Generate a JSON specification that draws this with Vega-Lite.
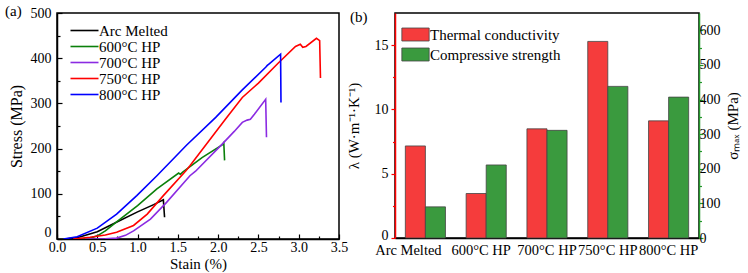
{
  "$schema": "https://vega.github.io/schema/vega-lite/v6.json",
  "background": "white",
  "padding": {"left": 4, "top": 3, "right": 2, "bottom": 2},
  "spacing": -4,
  "resolve": {"scale": {"color": "independent"}, "legend": {"color": "independent"}},
  "config": {
    "font": "Liberation Serif",
    "style": {"guide-label": {"font": "Liberation Serif"}, "guide-title": {"font": "Liberation Serif"}, "group-title": {"font": "Liberation Serif"}},
    "view": {"stroke": "black", "strokeWidth": 1.5},
    "axis": {"labelFont": "Liberation Serif", "titleFont": "Liberation Serif", "labelFontSize": 14, "titleFontSize": 15, "titleFontWeight": "normal", "labelColor": "black", "titleColor": "black", "domainColor": "black", "tickColor": "black", "domainWidth": 1.5, "tickWidth": 1.2, "grid": false},
    "legend": {"labelFont": "Liberation Serif", "labelFontSize": 15, "labelColor": "black"},
    "title": {"font": "Liberation Serif", "fontSize": 15, "fontWeight": "normal", "color": "black"}
  },
  "hconcat": [
    {
      "width": 282,
      "height": 226,
      "title": {"text": "(a)", "anchor": "start", "frame": "bounds", "dx": -3, "dy": 17},
      "data": {"values": [
        {"series": "Arc Melted", "i": 0, "strain": 0.1, "stress": 0},
        {"series": "Arc Melted", "i": 1, "strain": 0.25, "stress": 3},
        {"series": "Arc Melted", "i": 2, "strain": 0.5, "stress": 16},
        {"series": "Arc Melted", "i": 3, "strain": 0.75, "stress": 38},
        {"series": "Arc Melted", "i": 4, "strain": 1.0, "stress": 60},
        {"series": "Arc Melted", "i": 5, "strain": 1.2, "stress": 76},
        {"series": "Arc Melted", "i": 6, "strain": 1.32, "stress": 87},
        {"series": "Arc Melted", "i": 7, "strain": 1.335, "stress": 48},
        {"series": "600°C HP", "i": 0, "strain": 0.3, "stress": 0},
        {"series": "600°C HP", "i": 1, "strain": 0.4, "stress": 1},
        {"series": "600°C HP", "i": 2, "strain": 0.5, "stress": 7},
        {"series": "600°C HP", "i": 3, "strain": 0.6, "stress": 18},
        {"series": "600°C HP", "i": 4, "strain": 0.74, "stress": 38},
        {"series": "600°C HP", "i": 5, "strain": 1.0, "stress": 74},
        {"series": "600°C HP", "i": 6, "strain": 1.24, "stress": 111},
        {"series": "600°C HP", "i": 7, "strain": 1.51, "stress": 146},
        {"series": "600°C HP", "i": 8, "strain": 1.53, "stress": 143},
        {"series": "600°C HP", "i": 9, "strain": 1.56, "stress": 148},
        {"series": "600°C HP", "i": 10, "strain": 1.8, "stress": 180},
        {"series": "600°C HP", "i": 11, "strain": 2.05, "stress": 208},
        {"series": "600°C HP", "i": 12, "strain": 2.07, "stress": 213},
        {"series": "600°C HP", "i": 13, "strain": 2.08, "stress": 174},
        {"series": "700°C HP", "i": 0, "strain": 0.35, "stress": 0},
        {"series": "700°C HP", "i": 1, "strain": 0.6, "stress": 0.5},
        {"series": "700°C HP", "i": 2, "strain": 0.74, "stress": 2},
        {"series": "700°C HP", "i": 3, "strain": 0.85, "stress": 8},
        {"series": "700°C HP", "i": 4, "strain": 0.95, "stress": 18},
        {"series": "700°C HP", "i": 5, "strain": 1.16, "stress": 44},
        {"series": "700°C HP", "i": 6, "strain": 1.36, "stress": 81},
        {"series": "700°C HP", "i": 7, "strain": 1.65, "stress": 140},
        {"series": "700°C HP", "i": 8, "strain": 1.72, "stress": 150},
        {"series": "700°C HP", "i": 9, "strain": 2.05, "stress": 210},
        {"series": "700°C HP", "i": 10, "strain": 2.2, "stress": 238},
        {"series": "700°C HP", "i": 11, "strain": 2.3, "stress": 258},
        {"series": "700°C HP", "i": 12, "strain": 2.36, "stress": 263},
        {"series": "700°C HP", "i": 13, "strain": 2.4, "stress": 265},
        {"series": "700°C HP", "i": 14, "strain": 2.45, "stress": 276},
        {"series": "700°C HP", "i": 15, "strain": 2.59, "stress": 309},
        {"series": "700°C HP", "i": 16, "strain": 2.6, "stress": 225},
        {"series": "750°C HP", "i": 0, "strain": 0.2, "stress": 0},
        {"series": "750°C HP", "i": 1, "strain": 0.41, "stress": 4},
        {"series": "750°C HP", "i": 2, "strain": 0.6, "stress": 9},
        {"series": "750°C HP", "i": 3, "strain": 0.74, "stress": 15},
        {"series": "750°C HP", "i": 4, "strain": 0.95, "stress": 30},
        {"series": "750°C HP", "i": 5, "strain": 1.12, "stress": 55},
        {"series": "750°C HP", "i": 6, "strain": 1.32, "stress": 96},
        {"series": "750°C HP", "i": 7, "strain": 1.6, "stress": 151},
        {"series": "750°C HP", "i": 8, "strain": 1.65, "stress": 162},
        {"series": "750°C HP", "i": 9, "strain": 2.09, "stress": 265},
        {"series": "750°C HP", "i": 10, "strain": 2.3, "stress": 313},
        {"series": "750°C HP", "i": 11, "strain": 2.5, "stress": 345},
        {"series": "750°C HP", "i": 12, "strain": 2.75, "stress": 390},
        {"series": "750°C HP", "i": 13, "strain": 2.96, "stress": 426},
        {"series": "750°C HP", "i": 14, "strain": 3.02, "stress": 431},
        {"series": "750°C HP", "i": 15, "strain": 3.05, "stress": 424},
        {"series": "750°C HP", "i": 16, "strain": 3.09, "stress": 426},
        {"series": "750°C HP", "i": 17, "strain": 3.22, "stress": 444},
        {"series": "750°C HP", "i": 18, "strain": 3.26, "stress": 439},
        {"series": "750°C HP", "i": 19, "strain": 3.27, "stress": 356},
        {"series": "800°C HP", "i": 0, "strain": 0.08, "stress": 0},
        {"series": "800°C HP", "i": 1, "strain": 0.25, "stress": 5},
        {"series": "800°C HP", "i": 2, "strain": 0.5, "stress": 24},
        {"series": "800°C HP", "i": 3, "strain": 0.74, "stress": 55},
        {"series": "800°C HP", "i": 4, "strain": 0.99, "stress": 96},
        {"series": "800°C HP", "i": 5, "strain": 1.24, "stress": 140},
        {"series": "800°C HP", "i": 6, "strain": 1.61, "stress": 208},
        {"series": "800°C HP", "i": 7, "strain": 1.97, "stress": 269},
        {"series": "800°C HP", "i": 8, "strain": 2.3, "stress": 330},
        {"series": "800°C HP", "i": 9, "strain": 2.59, "stress": 380},
        {"series": "800°C HP", "i": 10, "strain": 2.61, "stress": 384},
        {"series": "800°C HP", "i": 11, "strain": 2.63, "stress": 387},
        {"series": "800°C HP", "i": 12, "strain": 2.775, "stress": 409},
        {"series": "800°C HP", "i": 13, "strain": 2.78, "stress": 302}
      ]},
      "mark": {"type": "line", "strokeWidth": 1.6, "clip": true},
      "encoding": {
        "x": {"field": "strain", "type": "quantitative", "title": "Stain (%)",
          "scale": {"domain": [0, 3.5], "nice": false, "zero": false},
          "axis": {"values": [0, 0.25, 0.5, 0.75, 1, 1.25, 1.5, 1.75, 2, 2.25, 2.5, 2.75, 3, 3.25, 3.5],
            "labelExpr": "(datum.value * 2) % 1 == 0 ? format(datum.value, '.1f') : ''",
            "tickSize": {"condition": {"test": "(datum.value * 2) % 1 == 0", "value": -5}, "value": -3},
            "labelFont": "Liberation Serif", "titleFont": "Liberation Serif",
            "labelPadding": 6, "titlePadding": 0, "labelFlush": false, "labelOverlap": false}},
        "y": {"field": "stress", "type": "quantitative", "title": "Stress (MPa)",
          "scale": {"domain": [0, 500], "nice": false},
          "axis": {"values": [0, 50, 100, 150, 200, 250, 300, 350, 400, 450, 500],
            "labelExpr": "datum.value % 100 == 0 ? datum.label : ''",
            "tickSize": {"condition": {"test": "datum.value % 100 == 0", "value": -5}, "value": -3},
            "labelOffset": {"condition": {"test": "datum.value == 0", "value": -7}, "value": 0},
            "labelFont": "Liberation Serif", "titleFont": "Liberation Serif",
            "labelPadding": 11, "titlePadding": 6, "titleFontSize": 16, "labelFlush": false, "labelOverlap": false}},
        "color": {"field": "series", "type": "nominal",
          "scale": {"domain": ["Arc Melted", "600°C HP", "700°C HP", "750°C HP", "800°C HP"],
            "range": ["#000000", "#0a800a", "#8b2be2", "#ff0000", "#0000ff"]},
          "legend": {"title": null, "orient": "none", "legendX": 20, "legendY": 10,
            "symbolType": "M-2.8,0L2.8,0", "symbolSize": 100, "symbolStrokeWidth": 1.6,
            "labelFont": "Liberation Serif",
            "labelOffset": 7, "rowPadding": -1, "padding": 0}},
        "order": {"field": "i", "type": "quantitative"}
      }
    },
    {
      "width": 304,
      "height": 225,
      "title": {"text": "(b)", "anchor": "start", "frame": "bounds", "dx": 4, "dy": 16},
      "data": {"values": [
        {"cat": "Arc Melted", "series": "Thermal conductivity", "val": 7.16},
        {"cat": "600°C HP", "series": "Thermal conductivity", "val": 3.46},
        {"cat": "700°C HP", "series": "Thermal conductivity", "val": 8.49},
        {"cat": "750°C HP", "series": "Thermal conductivity", "val": 15.29},
        {"cat": "800°C HP", "series": "Thermal conductivity", "val": 9.11},
        {"cat": "Arc Melted", "series": "Compressive strength", "val": 90},
        {"cat": "600°C HP", "series": "Compressive strength", "val": 211},
        {"cat": "700°C HP", "series": "Compressive strength", "val": 311},
        {"cat": "750°C HP", "series": "Compressive strength", "val": 438},
        {"cat": "800°C HP", "series": "Compressive strength", "val": 407}
      ]},
      "encoding": {
        "x": {"field": "cat", "type": "nominal", "sort": null, "title": null,
          "scale": {"paddingInner": 0.34, "paddingOuter": 0.17},
          "axis": {"labelAngle": 0, "ticks": false, "labelFontSize": 14.5, "labelPadding": 5,
            "labelFont": "Liberation Serif",
            "labelOffset": {"condition": [{"test": "datum.value === 'Arc Melted'", "value": -17}, {"test": "datum.value === '600°C HP'", "value": -5}], "value": 0}}},
        "xOffset": {"field": "series", "type": "nominal",
          "scale": {"domain": ["Thermal conductivity", "Compressive strength"], "paddingInner": 0, "paddingOuter": 0}},
        "color": {"field": "series", "type": "nominal",
          "scale": {"domain": ["Thermal conductivity", "Compressive strength"], "range": ["#f53c3c", "#3a9a3e"]},
          "legend": {"title": null, "orient": "none", "legendX": 13, "legendY": 14,
            "symbolType": "M-2.1,-1L2.1,-1L2.1,1L-2.1,1Z", "symbolSize": 169,
            "symbolStrokeColor": "#444444", "symbolStrokeWidth": 0.8,
            "labelFont": "Liberation Serif",
            "labelOffset": 7, "rowPadding": 3, "padding": 0}}
      },
      "layer": [
        {
          "transform": [{"filter": "datum.series === 'Thermal conductivity'"}],
          "mark": {"type": "bar", "stroke": "#444444", "strokeWidth": 0.8},
          "encoding": {
            "y": {"field": "val", "type": "quantitative", "title": "λ (W·m⁻¹·K⁻¹)",
              "scale": {"domain": [0, 17.5], "nice": false},
              "axis": {"values": [0, 2.5, 5, 7.5, 10, 12.5, 15],
                "labelExpr": "datum.value % 5 == 0 ? datum.label : ''",
                "tickSize": {"condition": {"test": "datum.value % 5 == 0", "value": 4}, "value": 2.5},
                "labelOffset": {"condition": {"test": "datum.value == 0", "value": -3}, "value": 0},
                "labelFont": "Liberation Serif", "titleFont": "Liberation Serif",
                "domainColor": "#ff0000", "tickColor": "#ff0000", "labelPadding": 3, "titlePadding": 13, "labelFlush": false, "labelOverlap": false}}
          }
        },
        {
          "transform": [{"filter": "datum.series === 'Compressive strength'"}],
          "mark": {"type": "bar", "stroke": "#444444", "strokeWidth": 0.8},
          "encoding": {
            "y": {"field": "val", "type": "quantitative", "title": "σₘₐₓ (MPa)",
              "scale": {"domain": [0, 650], "nice": false},
              "axis": {"orient": "right", "values": [0, 50, 100, 150, 200, 250, 300, 350, 400, 450, 500, 550, 600],
                "labelExpr": "datum.value % 100 == 0 ? datum.label : ''",
                "tickSize": {"condition": {"test": "datum.value % 100 == 0", "value": 4}, "value": 2.5},
                "labelFont": "Liberation Serif", "titleFont": "Liberation Serif",
                "titleAngle": 270, "domainColor": "#22962a", "tickColor": "#22962a", "labelPadding": -4, "titlePadding": 20, "labelFlush": false, "labelOverlap": false}}
          }
        }
      ],
      "resolve": {"scale": {"y": "independent"}}
    }
  ]
}
